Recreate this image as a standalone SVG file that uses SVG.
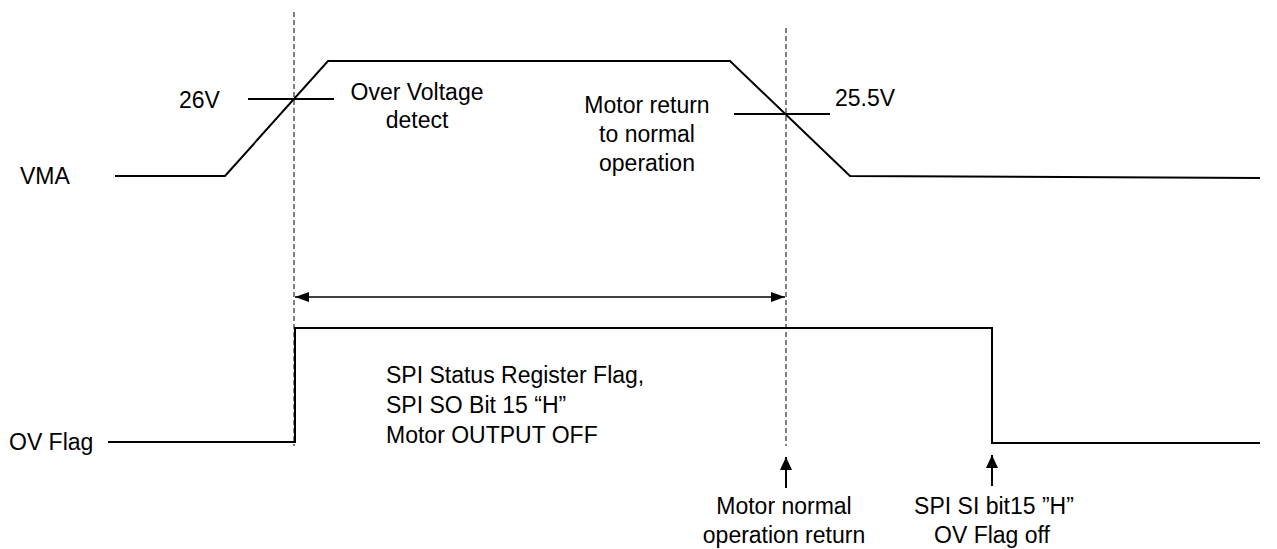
<svg xmlns="http://www.w3.org/2000/svg" width="1277" height="549" viewBox="0 0 1277 549">
<defs>
<style>
text{font-family:"Liberation Sans",Arial,sans-serif;font-size:23px;fill:#000}
.c{text-anchor:middle}
.wave{fill:none;stroke:#000;stroke-width:2;stroke-linejoin:miter}
.tick{stroke:#000;stroke-width:1.8}
.dash{stroke:#000;stroke-width:1;stroke-dasharray:5 3}
.arr{stroke:#000;stroke-width:1.3;fill:none}
.up{stroke:#000;stroke-width:2;fill:none}
</style>
<marker id="ah" viewBox="0 0 14 10" refX="14" refY="5" markerWidth="14" markerHeight="10" markerUnits="userSpaceOnUse" orient="auto-start-reverse">
<path d="M0,0 L14,5 L0,10 Z" fill="#000"/>
</marker>
<marker id="ahu" viewBox="0 0 12 14" refX="13" refY="6" markerWidth="12" markerHeight="14" markerUnits="userSpaceOnUse" orient="auto">
<path d="M0,0 L13,6 L0,12 Z" fill="#000"/>
</marker>
</defs>
<rect width="1277" height="549" fill="#fff"/>

<g id="vma">
<text x="20" y="184">VMA</text>
<polyline class="wave" points="115,176 225,176 328,61 730,61 850,176 1260,178"/>
</g>

<g id="ovflag">
<text x="9" y="450">OV Flag</text>
<polyline class="wave" points="108,442 295,442 295,328 992,328 992,443 1260,443"/>
</g>

<g id="th26">
<line class="tick" x1="248" y1="99" x2="334" y2="99"/>
<text x="179" y="108">26V</text>
</g>

<g id="th255">
<line class="tick" x1="734" y1="114" x2="830" y2="114"/>
<text x="835" y="106">25.5V</text>
</g>

<g id="ovdetect">
<text class="c" x="417" y="100">Over Voltage</text>
<text class="c" x="417" y="128">detect</text>
</g>

<g id="motorreturn">
<text class="c" x="647" y="113">Motor return</text>
<text class="c" x="647" y="142">to normal</text>
<text class="c" x="647" y="171">operation</text>
</g>

<g id="status">
<text x="386" y="383">SPI Status Register Flag,</text>
<text x="386" y="413">SPI SO Bit 15 “H”</text>
<text x="386" y="443">Motor OUTPUT OFF</text>
</g>

<g id="normalreturn">
<text class="c" x="784" y="514">Motor normal</text>
<text class="c" x="784" y="543">operation return</text>
</g>

<g id="flagoff">
<text class="c" x="994" y="514">SPI SI bit15 ”H”</text>
<text class="c" x="992" y="543">OV Flag off</text>
</g>

<g id="connectors">
<line class="dash" x1="294" y1="12" x2="294" y2="446"/>
<line class="dash" x1="786" y1="28" x2="786" y2="446"/>
<line class="arr" x1="295" y1="297" x2="785" y2="297" marker-start="url(#ah)" marker-end="url(#ah)"/>
<line class="up" x1="786" y1="488" x2="786" y2="457" marker-end="url(#ahu)"/>
<line class="up" x1="992" y1="486" x2="992" y2="455" marker-end="url(#ahu)"/>
</g>
</svg>
